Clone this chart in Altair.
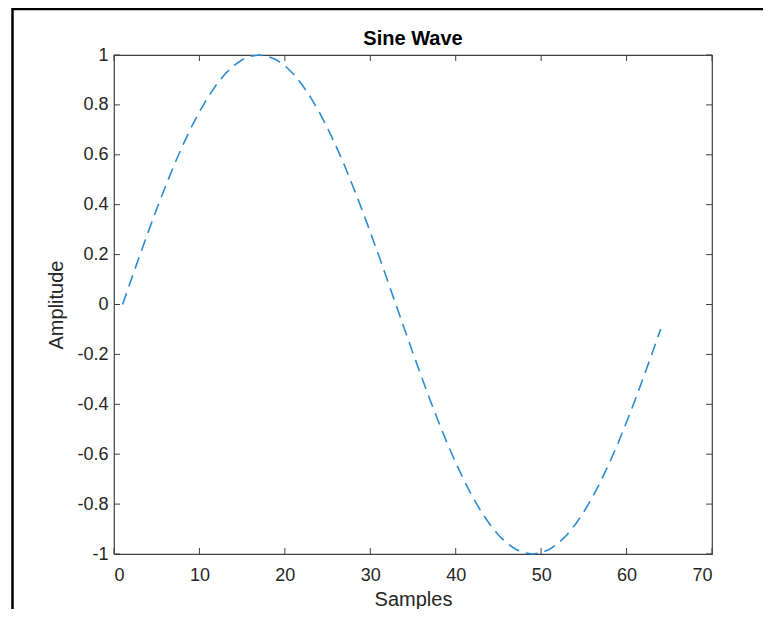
import altair as alt
import pandas as pd

samples = list(range(1, 65))
amplitude = [
    0.000, 0.098, 0.195, 0.290, 0.383, 0.471, 0.556, 0.634,
    0.707, 0.773, 0.831, 0.882, 0.924, 0.957, 0.981, 0.995,
    1.000, 0.995, 0.981, 0.957, 0.924, 0.882, 0.831, 0.773,
    0.707, 0.634, 0.556, 0.471, 0.383, 0.290, 0.195, 0.098,
    0.000, -0.098, -0.195, -0.290, -0.383, -0.471, -0.556, -0.634,
    -0.707, -0.773, -0.831, -0.882, -0.924, -0.957, -0.981, -0.995,
    -1.000, -0.995, -0.981, -0.957, -0.924, -0.882, -0.831, -0.773,
    -0.707, -0.634, -0.556, -0.471, -0.383, -0.290, -0.195, -0.098,
]
x_ticks = [0, 10, 20, 30, 40, 50, 60, 70]
y_ticks = [-1, -0.8, -0.6, -0.4, -0.2, 0, 0.2, 0.4, 0.6, 0.8, 1]

df = pd.DataFrame({"Samples": samples, "Amplitude": amplitude})
xt = pd.DataFrame({"Samples": x_ticks})
yt = pd.DataFrame({"Amplitude": y_ticks})
one = pd.DataFrame({"a": [0]})

W, H = 598, 499
FONT = "Liberation Sans"
AXC = "#404040"
TL = 6

xscale = alt.Scale(domain=[0, 70], nice=False, zero=False)
yscale = alt.Scale(domain=[-1, 1], nice=False, zero=False)

xaxis = alt.Axis(values=x_ticks, title="Samples", labelPadding=12, titlePadding=5,
                 labelExpr="'' + datum.value")
yaxis = alt.Axis(values=y_ticks, title="Amplitude", labelPadding=6, titlePadding=10,
                 labelExpr="'' + datum.value")

line = alt.Chart(df).mark_line(
    color="#2b8cd3", strokeWidth=1.6, strokeDash=[12, 7]
).encode(
    x=alt.X("Samples:Q", scale=xscale, axis=xaxis),
    y=alt.Y("Amplitude:Q", scale=yscale, axis=yaxis),
)

tick_style = dict(color=AXC, strokeWidth=1)
xb = alt.Chart(xt).mark_rule(**tick_style).encode(
    x=alt.X("Samples:Q", scale=xscale, axis=xaxis), y=alt.value(H), y2=alt.value(H - TL))
xtop = alt.Chart(xt).mark_rule(**tick_style).encode(
    x=alt.X("Samples:Q", scale=xscale, axis=xaxis), y=alt.value(0), y2=alt.value(TL))
yl = alt.Chart(yt).mark_rule(**tick_style).encode(
    y=alt.Y("Amplitude:Q", scale=yscale, axis=yaxis), x=alt.value(0), x2=alt.value(TL))
yr = alt.Chart(yt).mark_rule(**tick_style).encode(
    y=alt.Y("Amplitude:Q", scale=yscale, axis=yaxis), x=alt.value(W), x2=alt.value(W - TL))

# screenshot frame lines (top and left)
frame_top = alt.Chart(one).mark_rule(color="black", strokeWidth=2.5).encode(
    x=alt.value(-102), x2=alt.value(700), y=alt.value(-46))
frame_left = alt.Chart(one).mark_rule(color="black", strokeWidth=2.5).encode(
    x=alt.value(-101.5), y=alt.value(-47), y2=alt.value(600))

chart = alt.layer(line, xb, xtop, yl, yr, frame_top, frame_left).properties(
    width=W, height=H,
    background="white",
    autosize=alt.AutoSizeParams(type="none"),
    padding={"left": 106, "top": 47, "right": 51, "bottom": 55},
    title=alt.TitleParams("Sine Wave", fontSize=20, fontWeight="bold", font=FONT,
                          color="black", offset=-58, anchor="middle", frame="group",
                          baseline="alphabetic"),
).configure_view(
    stroke=AXC, strokeWidth=1.2
).configure_axis(
    labelFont=FONT, labelFontSize=18, labelColor="#262626",
    titleFont=FONT, titleFontSize=20, titleFontWeight="normal", titleColor="#262626",
    ticks=False, domain=False, grid=False,
)

chart.save("out.html", embed_options={"renderer": "svg", "actions": False})
